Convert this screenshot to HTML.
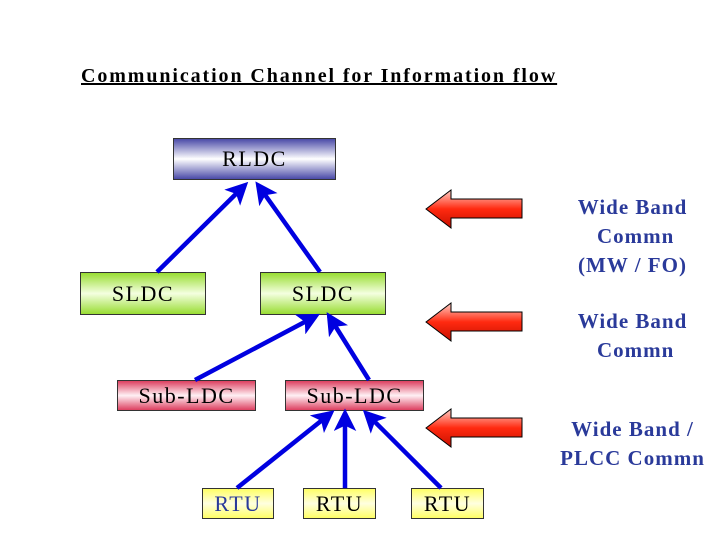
<!DOCTYPE html>
<html><head><meta charset="utf-8"><style>
body{margin:0;width:720px;height:540px;background:#fff;position:relative;overflow:hidden;font-family:"Liberation Serif",serif;}
.b{position:absolute;box-sizing:border-box;border:1px solid #333;display:flex;align-items:center;justify-content:center;font-size:22px;color:#000;letter-spacing:1.5px;}
.rl{background:linear-gradient(#4a4aa8,#ffffff 50%,#4a4aa8);}
.sl{background:linear-gradient(#99dd33,#f4ffe0 50%,#99dd33);}
.su{background:linear-gradient(#dd4060,#fff0f4 50%,#dd4060);}
.rt{background:linear-gradient(#ffff66,#ffffe0 50%,#ffff66);}
.t{position:absolute;color:#2a3a9a;font-size:21px;line-height:29px;text-align:center;font-weight:bold;letter-spacing:1px;}
</style></head><body>
<div style="position:absolute;left:81px;top:65px;font-size:20px;font-weight:bold;text-decoration:underline;letter-spacing:1.9px;white-space:nowrap;">Communication Channel for Information flow</div>
<div class="b rl" style="left:173px;top:138px;width:163px;height:42px;">RLDC</div>
<div class="b sl" style="left:80px;top:272px;width:126px;height:43px;">SLDC</div>
<div class="b sl" style="left:260px;top:272px;width:126px;height:43px;">SLDC</div>
<div class="b su" style="left:117px;top:380px;width:139px;height:31px;">Sub-LDC</div>
<div class="b su" style="left:285px;top:380px;width:139px;height:31px;">Sub-LDC</div>
<div class="b rt" style="left:202px;top:488px;width:72px;height:31px;color:#2a3a9a;">RTU</div>
<div class="b rt" style="left:303px;top:488px;width:73px;height:31px;">RTU</div>
<div class="b rt" style="left:411px;top:488px;width:73px;height:31px;">RTU</div>
<svg width="720" height="540" style="position:absolute;left:0;top:0">
<defs>
<marker id="a" markerWidth="5" markerHeight="5" refX="4" refY="2.5" orient="auto" markerUnits="strokeWidth"><path d="M0,0 L5,2.5 L0,5 L1.2,2.5Z" fill="#0000e0"/></marker>
<linearGradient id="r" x1="0" y1="0" x2="0" y2="1"><stop offset="0" stop-color="#ffd0c8"/><stop offset="0.5" stop-color="#ff2a10"/><stop offset="1" stop-color="#c81000"/></linearGradient>
</defs>
<g stroke="#0000e0" stroke-width="4.5" marker-end="url(#a)">
<line x1="157" y1="272" x2="245" y2="185"/>
<line x1="320" y1="272" x2="258" y2="185"/>
<line x1="195" y1="380" x2="316" y2="316"/>
<line x1="369" y1="380" x2="329" y2="316"/>
<line x1="237" y1="488" x2="331" y2="413"/>
<line x1="345" y1="488" x2="345" y2="413"/>
<line x1="441" y1="488" x2="366" y2="413"/>
</g>
<g fill="url(#r)" stroke="#000" stroke-width="1">
<path d="M426,209 L451,190 L451,199 L522,199 L522,218 L451,218 L451,228Z"/>
<path d="M426,322 L451,303 L451,312 L522,312 L522,331 L451,331 L451,341Z"/>
<path d="M426,428 L451,409 L451,418 L522,418 L522,437 L451,437 L451,447Z"/>
</g>
</svg>
<div class="t" style="left:560px;top:193px;width:145px;">Wide Band<br>&nbsp;Commn<br>(MW / FO)</div>
<div class="t" style="left:560px;top:307px;width:145px;">Wide Band<br>&nbsp;Commn</div>
<div class="t" style="left:545px;top:415px;width:175px;">Wide Band /<br>PLCC Commn</div>
</body></html>
